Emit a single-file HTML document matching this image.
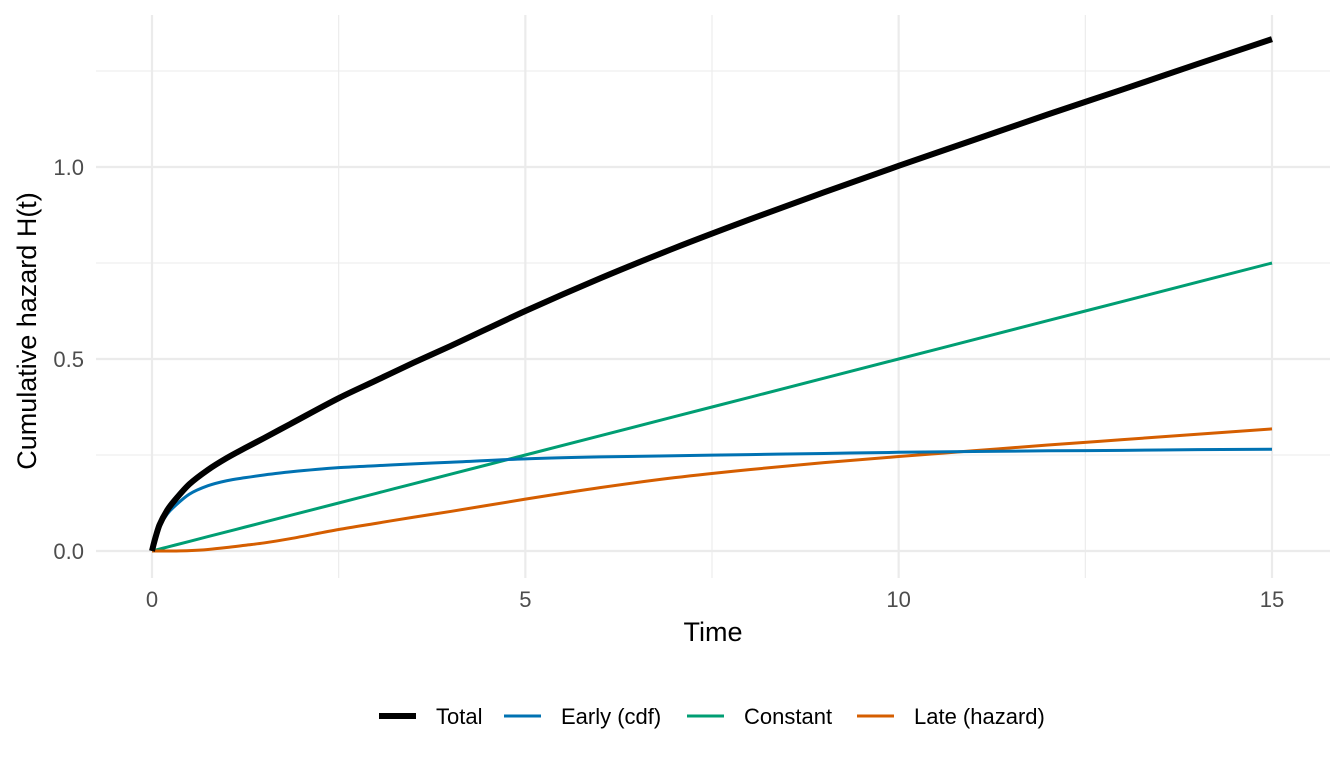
<!DOCTYPE html>
<html><head><meta charset="utf-8"><style>
html,body{margin:0;padding:0;background:#fff;}
svg{display:block;font-family:"Liberation Sans",sans-serif;}
</style></head><body>
<svg id="chart" width="1344" height="768" viewBox="0 0 1344 768">
<g id="grid"></g>
<g id="series"></g>
<g id="axes"></g>
<text x="713" y="641" font-size="27" text-anchor="middle" fill="#000">Time</text>
<text transform="translate(36,331) rotate(-90)" font-size="27" text-anchor="middle" fill="#000">Cumulative hazard H(t)</text>
<g id="legend"></g>
</svg>
<script>
const times = [0,0.02,0.05,0.1,0.2,0.3,0.5,0.75,1,1.25,1.5,1.85,2.5,3,3.5,4,5,6,7,8,9,10,11,12,13,14,15];
const earlyVals = [0,0.015,0.035,0.063,0.095,0.116,0.148,0.17,0.183,0.191,0.198,0.206,0.217,0.222,0.227,0.231,0.24,0.245,0.248,0.251,0.254,0.257,0.259,0.261,0.262,0.264,0.265];
const constVals = [0,0.001,0.0025,0.005,0.01,0.015,0.025,0.0375,0.05,0.0625,0.075,0.0925,0.125,0.15,0.175,0.2,0.25,0.3,0.35,0.4,0.45,0.5,0.55,0.6,0.65,0.7,0.75];
const lateVals = [0,0,0,0,0,0,0.001,0.004,0.009,0.015,0.021,0.032,0.056,0.072,0.088,0.103,0.135,0.165,0.191,0.212,0.23,0.246,0.261,0.276,0.29,0.304,0.318];
const totalVals = [0,0.016,0.0375,0.068,0.105,0.131,0.174,0.2115,0.242,0.2685,0.294,0.3305,0.398,0.444,0.49,0.534,0.625,0.71,0.789,0.863,0.934,1.003,1.07,1.137,1.202,1.268,1.333];
const xTicks = [0,5,10,15];
const xTickLabels = ["0","5","10","15"];
const xMinor = [2.5,7.5,12.5];
const yTicks = [0,0.5,1.0];
const yTickLabels = ["0.0","0.5","1.0"];
const yMinor = [0.25,0.75,1.25];
const seriesNames = ["Total","Early (cdf)","Constant","Late (hazard)"];

const NS="http://www.w3.org/2000/svg";
const PL=96, PR=1330, PT=15, PB=578;
function xs(t){return 152+t*(1272-152)/15;}
function ys(v){return 551-v*384;}
function mk(tag,attrs,parent){const e=document.createElementNS(NS,tag);for(const k in attrs)e.setAttribute(k,attrs[k]);parent.appendChild(e);return e;}
const grid=document.getElementById('grid'), ser=document.getElementById('series'), axes=document.getElementById('axes'), leg=document.getElementById('legend');
yMinor.forEach(v=>{const l=mk('line',{x1:PL,x2:PR,y1:ys(v),y2:ys(v),stroke:'#ebebeb','stroke-width':1.1},grid);

});
xMinor.forEach(v=>{const l=mk('line',{x1:xs(v),x2:xs(v),y1:PT,y2:PB,stroke:'#ebebeb','stroke-width':1.1},grid);

});
yTicks.forEach((v,i)=>{const l=mk('line',{x1:PL,x2:PR,y1:ys(v),y2:ys(v),stroke:'#ebebeb','stroke-width':2.2},grid);


const t=mk('text',{x:84,y:ys(v)+8,'font-size':22,'text-anchor':'end',fill:'#4d4d4d'},axes);t.textContent=yTickLabels[i];

});
xTicks.forEach((v,i)=>{const l=mk('line',{x1:xs(v),x2:xs(v),y1:PT,y2:PB,stroke:'#ebebeb','stroke-width':2.2},grid);


const t=mk('text',{x:xs(v),y:607,'font-size':22,'text-anchor':'middle',fill:'#4d4d4d'},axes);t.textContent=xTickLabels[i];

});
function smoothPath(P){
  let d='M'+P[0][0].toFixed(2)+','+P[0][1].toFixed(2);
  for(let i=0;i<P.length-1;i++){
    const p0=P[Math.max(0,i-1)],p1=P[i],p2=P[i+1],p3=P[Math.min(P.length-1,i+2)];
    const h=p2[0]-p1[0];
    const m1=(p2[1]-p0[1])/((p2[0]-p0[0])||1), m2=(p3[1]-p1[1])/((p3[0]-p1[0])||1);
    const c1x=p1[0]+h/3,c1y=p1[1]+m1*h/3,c2x=p2[0]-h/3,c2y=p2[1]-m2*h/3;
    d+=' C'+c1x.toFixed(2)+','+c1y.toFixed(2)+' '+c2x.toFixed(2)+','+c2y.toFixed(2)+' '+p2[0].toFixed(2)+','+p2[1].toFixed(2);
  }
  return d;
}
function line(vals,color,w,name){const P=times.map((t,i)=>[xs(t),ys(vals[i])]);
const p=mk('path',{d:smoothPath(P),fill:'none',stroke:color,'stroke-width':w,'stroke-linejoin':'round','stroke-linecap':'butt'},ser);

}
line(constVals,'#009E73',3,'constant-line');
line(lateVals,'#D55E00',3,'late-hazard-line');
line(earlyVals,'#0072B2',3,'early-cdf-line');
line(totalVals,'#000000',6,'total-line');
const legItems=[{c:'#000',w:6,x:379,tx:436},{c:'#0072B2',w:3,x:504,tx:561},{c:'#009E73',w:3,x:687,tx:744},{c:'#D55E00',w:3,x:857,tx:914}];
legItems.forEach((it,i)=>{const g=mk('g',{},leg);


mk('line',{x1:it.x,x2:it.x+37,y1:716,y2:716,stroke:it.c,'stroke-width':it.w},g);
const t=mk('text',{x:it.tx,y:724,'font-size':22,fill:'#000'},g);t.textContent=seriesNames[i];});
</script>
</body></html>
